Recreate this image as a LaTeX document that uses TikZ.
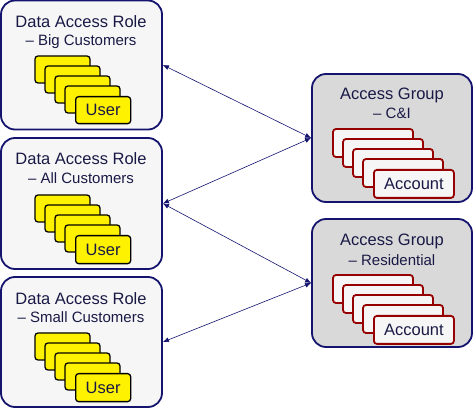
\documentclass[tikz,border=0pt]{standalone}
\usepackage{fontspec}
\setmainfont{Liberation Sans}
\usepackage{xcolor}
\usepackage{tikz}
\usetikzlibrary{arrows.meta}
\definecolor{navy}{RGB}{20,20,110}
\definecolor{ink}{RGB}{25,25,70}
\definecolor{rolefill}{RGB}{246,246,246}
\definecolor{groupfill}{RGB}{217,217,217}
\definecolor{acctred}{RGB}{150,0,0}

\begin{document}
\begin{tikzpicture}[x=1pt, y=-1pt,
  rolebox/.style={draw=navy, fill=rolefill, line width=1.8pt, rounded corners=14pt, minimum width=161pt, minimum height=129pt},
  groupbox/.style={draw=navy, fill=groupfill, line width=1.8pt, rounded corners=14pt, minimum width=160pt, minimum height=128pt},
  title/.style={text=ink, font=\fontsize{16.5}{18}\selectfont, inner sep=0pt},
  subtitle/.style={text=ink, font=\fontsize{15}{17}\selectfont, inner sep=0pt},
  usercard/.style={draw=black, fill=yellow, line width=1.3pt, rounded corners=3pt},
  acctcard/.style={draw=acctred, fill=rolefill, line width=1.8pt, rounded corners=3pt},
  cardtext/.style={text=ink, font=\fontsize{16.5}{18}\selectfont, inner sep=0pt, anchor=north west},
  link/.style={navy, line width=0.6pt, {Latex[length=6pt,width=5pt]}-{Latex[length=6pt,width=5pt]}}]
  \useasboundingbox (0,0) rectangle (475,409);
  % data access roles
  \node[rolebox] (big) at (81.5,65) {};
  \node[rolebox, minimum height=131pt] (all) at (81.5,203.5) {};
  \node[rolebox, minimum height=130pt] (small) at (81.5,342) {};
  \node[title] at (81,22) {Data Access Role};
  \node[subtitle] at (81,42) {– Big Customers};
  \node[title] at (81,159) {Data Access Role};
  \node[subtitle] at (81,178) {– All Customers};
  \node[title] at (81,299) {Data Access Role};
  \node[subtitle] at (81,317) {– Small Customers};
  % access groups
  \node[groupbox] (ci) at (392,138) {};
  \node[groupbox] (res) at (392,283) {};
  \node[title] at (392,95) {Access Group};
  \node[subtitle] at (392,113) {– C\&I};
  \node[title] at (392,241) {Access Group};
  \node[subtitle] at (392,260) {– Residential};
  % users
  \draw[usercard] (35,56) rectangle ++(55,27);
  \draw[usercard] (45,66) rectangle ++(55,27);
  \draw[usercard] (55,76) rectangle ++(55,27);
  \draw[usercard] (65,86) rectangle ++(55,27);
  \node[usercard, cardtext, minimum width=55pt, minimum height=27pt] (bigu) at (75,96) {User};
  \draw[usercard] (35,195) rectangle ++(55,27);
  \draw[usercard] (45,205) rectangle ++(55,27);
  \draw[usercard] (55,215) rectangle ++(55,27);
  \draw[usercard] (65,225) rectangle ++(55,27);
  \node[usercard, cardtext, minimum width=55pt, minimum height=28pt] (allu) at (75,235) {User};
  \draw[usercard] (35,333) rectangle ++(55,27);
  \draw[usercard] (45,343) rectangle ++(55,27);
  \draw[usercard] (55,353) rectangle ++(55,27);
  \draw[usercard] (65,363) rectangle ++(55,27);
  \node[usercard, cardtext, minimum width=55pt, minimum height=28pt] (smallu) at (75,373) {User};
  % accounts
  \draw[acctcard] (333,129) rectangle ++(80,28);
  \draw[acctcard] (343,139) rectangle ++(80,28);
  \draw[acctcard] (353,149) rectangle ++(80,28);
  \draw[acctcard] (363,159) rectangle ++(80,28);
  \node[acctcard, cardtext, minimum width=80pt, minimum height=28pt] (cia) at (373,169) {Account};
  \draw[acctcard] (333,275) rectangle ++(80,28);
  \draw[acctcard] (343,285) rectangle ++(80,28);
  \draw[acctcard] (353,295) rectangle ++(80,28);
  \draw[acctcard] (363,305) rectangle ++(80,28);
  \node[acctcard, cardtext, minimum width=80pt, minimum height=28pt] (resa) at (373,315) {Account};
  % links
  \draw[link] (big.east) -- (ci.west);
  \draw[link] (ci.west) -- (all.east);
  \draw[link] (all.east) -- (res.west);
  \draw[link] (res.west) -- (small.east);
\end{tikzpicture}
\end{document}
